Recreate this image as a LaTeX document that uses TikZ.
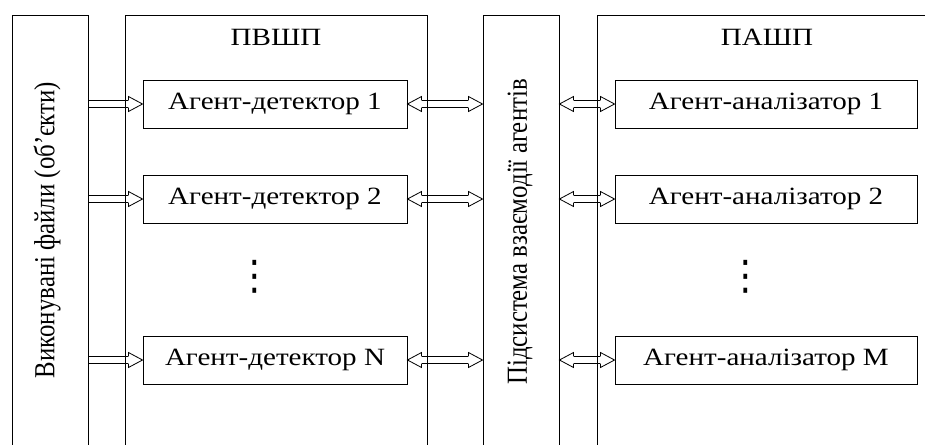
\documentclass[tikz,border=0pt]{standalone}
\usepackage{fontspec}
\setmainfont{Liberation Serif}
\newfontfamily\dotsfont{DejaVu Sans}
\usetikzlibrary{fit,positioning,arrows.meta,backgrounds}

% text is drawn a bit wider than the font
\newcommand{\wtext}[1]{\scalebox{1.17}[1]{#1}}
\newcommand{\vtext}[1]{\scalebox{1}[1.17]{#1}}

% hollow block arrow head for double lines
\pgfdeclarearrow{
  name = Block,
  setup code = {
    \pgfarrowssettipend{0pt}
    \pgfarrowssetbackend{-12pt}
    \pgfarrowssetlineend{-11.8pt}
    \pgfarrowssetvisualbackend{-12pt}
    \pgfarrowshullpoint{0pt}{0pt}
    \pgfarrowsupperhullpoint{-12pt}{6.4pt}
  },
  drawing code = {
    \pgfsetlinewidth{0.7pt}
    \pgfsetmiterjoin
    \pgfsetfillcolor{white}
    \pgfpathmoveto{\pgfqpoint{0pt}{0pt}}
    \pgfpathlineto{\pgfqpoint{-12pt}{6.4pt}}
    \pgfpathlineto{\pgfqpoint{-12pt}{-6.4pt}}
    \pgfpathclose
    \pgfusepathqfill
    \pgfpathmoveto{\pgfqpoint{-12pt}{3.25pt}}
    \pgfpathlineto{\pgfqpoint{-12pt}{6.4pt}}
    \pgfpathlineto{\pgfqpoint{0pt}{0pt}}
    \pgfpathlineto{\pgfqpoint{-12pt}{-6.4pt}}
    \pgfpathlineto{\pgfqpoint{-12pt}{-3.25pt}}
    \pgfusepathqstroke
  }
}

\begin{document}
\begin{tikzpicture}[x=0.03cm,y=-0.03cm,
        every node/.style={font=\fontsize{21.2}{25}\selectfont},
        every fit/.style={rectangle,draw,line width=0.8pt,inner sep=0pt},
        agent/.style={rectangle,draw,line width=0.8pt,minimum height=1.44cm,inner sep=0pt},
        link/.style={double,double distance=5.8pt,line width=0.7pt,-{Block}},
        dlink/.style={link,{Block}-{Block}},
        vdots/.style={inner sep=0pt,font=\fontsize{24}{24}\dotsfont}]
        \useasboundingbox (0,0) rectangle (925,444);
        \clip (0,0) rectangle (925,444);

        % outer blocks (open at the bottom)
        \node[fit={(12,15) (88,480)}] (files) {};
        \node[fit={(125,15) (427,480)}] (pvshp) {};
        \node[fit={(483,15) (559,480)}] (sys) {};
        \node[fit={(597,15) (935,480)}] (pashp) {};

        \node[rotate=90] (fileslbl) at (47,230) {\vtext{Виконувані файли (об’єкти)}};
        \node[rotate=90] (syslbl) at (520,232) {\vtext{Підсистема взаємодії агентів}};
        \node (pvshplbl) at (276,37) {\wtext{ПВШП}};
        \node (pashplbl) at (767,37) {\wtext{ПАШП}};

        \node[agent,minimum width=7.92cm] (det1) at (275,104) {\wtext{Агент-детектор 1}};
        \node[agent,minimum width=7.92cm] (det2) at (275,199) {\wtext{Агент-детектор 2}};
        \node[agent,minimum width=7.92cm] (detN) at (275,360) {\wtext{Агент-детектор N}};

        \node[agent,minimum width=9.06cm] (an1) at (766,104) {\wtext{Агент-аналізатор 1}};
        \node[agent,minimum width=9.06cm] (an2) at (766,199) {\wtext{Агент-аналізатор 2}};
        \node[agent,minimum width=9.06cm] (anM) at (766,360) {\wtext{Агент-аналізатор M}};

        \node[vdots] (dotsL) at (255,277) {\scalebox{1.3}[1.45]{⋮}};
        \node[vdots] (dotsR) at (746,277) {\scalebox{1.3}[1.45]{⋮}};

        \begin{scope}[on background layer]
        \draw[link] (files.east |- det1) -- (det1.west);
        \draw[link] (files.east |- det2) -- (det2.west);
        \draw[link] (files.east |- detN) -- (detN.west);

        \draw[dlink] (det1.east) -- (sys.west |- det1);
        \draw[dlink] (det2.east) -- (sys.west |- det2);
        \draw[dlink] (detN.east) -- (sys.west |- detN);

        \draw[dlink] (sys.east |- an1) -- (an1.west);
        \draw[dlink] (sys.east |- an2) -- (an2.west);
        \draw[dlink] (sys.east |- anM) -- (anM.west);
        \end{scope}

    \end{tikzpicture}
\end{document}
